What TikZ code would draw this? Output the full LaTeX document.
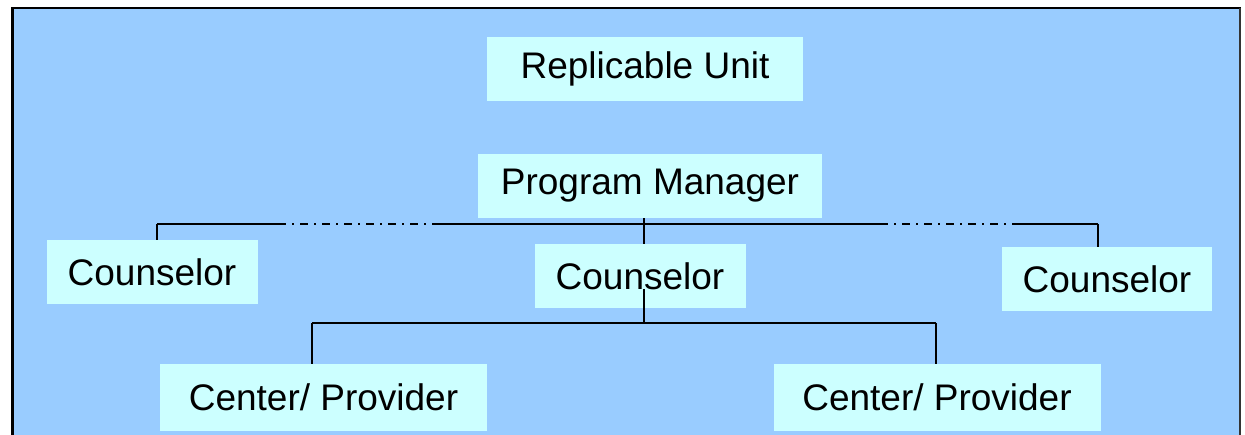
\documentclass[tikz,border=0pt]{standalone}
\usepackage{fontspec}
\setmainfont{Liberation Sans}
\usetikzlibrary{positioning}
\definecolor{panelblue}{HTML}{99CCFF}
\definecolor{boxcyan}{HTML}{CCFFFF}

\begin{document}
\begin{tikzpicture}[
    x=1pt, y=-1pt,
    box/.style={fill=boxcyan, inner sep=0pt, minimum height=64pt, font=\fontsize{37}{42}\selectfont},
    bus/.style={line width=2.5pt},
    busgap/.style={line width=2pt, dash pattern=on 8pt off 6pt on 2pt off 6pt},
    stem/.style={line width=1.2pt}
]
\useasboundingbox (0,0) rectangle (1245,435);
% panel
\fill[panelblue] (12,8) rectangle (1241,440);
\draw[line width=3pt] (12.5,440) -- (12.5,8);
\draw[line width=2pt] (11,8) -- (1241,8);
\draw[line width=1.5pt, black!80] (1240,8) -- (1240,440);

\node[box, minimum width=316pt] (unit) at (645,69) {Replicable Unit};
\node[box, minimum width=344pt] (pm) at (650,186) {Program Manager};
\node[box, minimum width=211pt] (cl) at (152,272) {Counselor};
\node[box, minimum width=211pt] (cm) at (640,276) {Counselor};
\node[box, minimum width=210pt] (cr) at (1107,279) {Counselor};
\node[box, minimum width=327pt, minimum height=67pt] (pl) at (323.5,397.5) {Center/ Provider};
\node[box, minimum width=327pt, minimum height=67pt] (pr) at (937,397.5) {Center/ Provider};

% upper bus
\coordinate (busL) at (157,224);
\coordinate (gapA) at (278,224);
\coordinate (gapB) at (432,224);
\coordinate (gapC) at (880,224);
\coordinate (gapD) at (1020,224);
\coordinate (busR) at (1098,224);
\draw[bus] (busL) -- (gapA);
\draw[busgap] (gapA) -- (gapB);
\draw[bus] (gapB) -- (gapC);
\draw[busgap] (gapC) -- (gapD);
\draw[bus] (gapD) -- (busR);
\draw[bus] (busL) -- (busL |- cl.north);
\draw[bus] (busR) -- (busR |- cr.north);
\draw[stem] (pm.south -| 644,0) -- (cm.north -| 644,0);

% lower bus
\coordinate (lowM) at (644,323);
\coordinate (lowL) at (312,323);
\coordinate (lowR) at (936,323);
\draw[stem] (cm.base -| lowM) -- (lowM);
\draw[bus] (lowL) -- (lowR);
\draw[bus] (lowL) -- (lowL |- pl.north);
\draw[bus] (lowR) -- (lowR |- pr.north);
\end{tikzpicture}
\end{document}
